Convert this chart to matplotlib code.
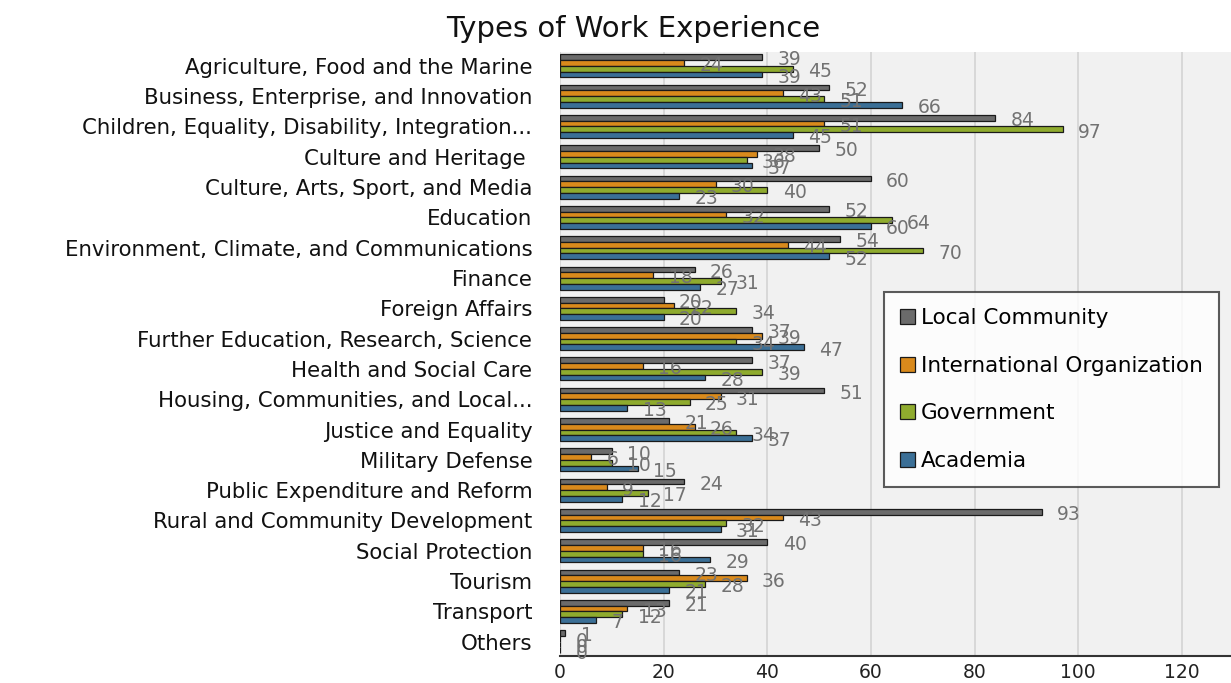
import matplotlib
matplotlib.use("Agg")
import matplotlib.pyplot as plt
import numpy as np

categories = [
    "Agriculture, Food and the Marine",
    "Business, Enterprise, and Innovation",
    "Children, Equality, Disability, Integration...",
    "Culture and Heritage ",
    "Culture, Arts, Sport, and Media",
    "Education",
    "Environment, Climate, and Communications",
    "Finance",
    "Foreign Affairs",
    "Further Education, Research, Science",
    "Health and Social Care",
    "Housing, Communities, and Local...",
    "Justice and Equality",
    "Military Defense",
    "Public Expenditure and Reform",
    "Rural and Community Development",
    "Social Protection",
    "Tourism",
    "Transport",
    "Others",
]

local_community = [39, 52, 84, 50, 60, 52, 54, 26, 20, 37, 37, 51, 21, 10, 24, 93, 40, 23, 21, 1]
international_org = [24, 43, 51, 38, 30, 32, 44, 18, 22, 39, 16, 31, 26, 6, 9, 43, 16, 36, 13, 0]
government = [45, 51, 97, 36, 40, 64, 70, 31, 34, 34, 39, 25, 34, 10, 17, 32, 16, 28, 12, 0]
academia = [39, 66, 45, 37, 23, 60, 52, 27, 20, 47, 28, 13, 37, 15, 12, 31, 29, 21, 7, 0]

series_names = ["Local Community", "International Organization", "Government", "Academia"]
series_colors = ["#6b6b6b", "#d98a1c", "#8fab2e", "#3b6f96"]

fig = plt.figure(figsize=(12.31, 6.83), dpi=100)
ax = fig.add_axes([0.455, 0.04, 0.545, 0.884])
ax.set_facecolor("#f1f1f1")

y = np.arange(len(categories))
h = 0.19
all_series = [local_community, international_org, government, academia]
for i, (vals, name, col) in enumerate(zip(all_series, series_names, series_colors)):
    pos = y + (i - 1.5) * h
    bars = ax.barh(pos, vals, height=h, color=col, edgecolor="#1a1a1a",
                   linewidth=0.9, label=name, zorder=3)
    for b, v in zip(bars, vals):
        ax.annotate(str(v), (v, b.get_y() + b.get_height() / 2),
                    xytext=(11, -2), textcoords="offset points",
                    ha="left", va="center", fontsize=13.5, color="#727272",
                    zorder=4)

ax.set_xlim(0, 129.5)
ax.set_ylim(len(categories) - 0.54, -0.46)
ax.set_xticks([0, 20, 40, 60, 80, 100, 120])
ax.set_yticks(y)
ax.set_yticklabels(categories, fontsize=15.3, color="#111111")
ax.tick_params(axis="y", length=0, pad=20)
ax.tick_params(axis="x", length=0, labelsize=13.5, labelcolor="#222222", pad=5)
ax.grid(axis="x", color="#d4d4d4", linewidth=1.2, zorder=0)

for side in ["top", "right", "left"]:
    ax.spines[side].set_visible(False)
ax.spines["bottom"].set_color("#333333")
ax.spines["bottom"].set_linewidth(1.5)

fig.suptitle("Types of Work Experience", x=0.514, y=0.978, fontsize=21, color="#111111")

leg = ax.legend(loc="upper left", bbox_to_anchor=(0.466, 0.62), frameon=True,
                fontsize=15.5, labelspacing=1.28, handlelength=0.7, handleheight=0.7,
                handletextpad=0.3, borderpad=0.75, fancybox=False)
leg.get_frame().set_edgecolor("#333333")
leg.get_frame().set_linewidth(1.5)

fig.savefig("out.png", dpi=100)
